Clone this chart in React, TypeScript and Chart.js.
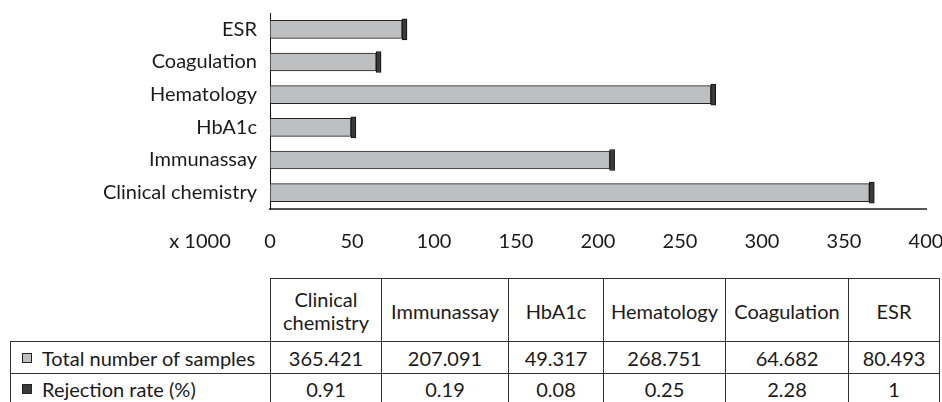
import React, { useEffect, useRef } from "react";
import { Chart, registerables } from "chart.js";

Chart.register(...registerables);

// ---- Data ----
const categories = ["Clinical chemistry", "Immunassay", "HbA1c", "Hematology", "Coagulation", "ESR"];
const headerLines = [["Clinical", "chemistry"], ["Immunassay"], ["HbA1c"], ["Hematology"], ["Coagulation"], ["ESR"]];
const totalSamples = [365.421, 207.091, 49.317, 268.751, 64.682, 80.493];
const totalSamplesText = ["365.421", "207.091", "49.317", "268.751", "64.682", "80.493"];
const rejectionRate = [0.91, 0.19, 0.08, 0.25, 2.28, 1];
const rejectionRateText = ["0.91", "0.19", "0.08", "0.25", "2.28", "1"];
const seriesNames = ["Total number of samples", "Rejection rate (%)"];
const xMin = 0;
const xMax = 400;
const xStep = 50;
const unitLabel = "x 1000";

const FONT = "Lato, 'Open Sans', sans-serif";
const FS = 20;
const TEXT = "#1a1a1a";
const GREY = "#bebfc1";
const DARK = "#3a3a3a";
const LINE = "#333";

const colWidths = [260, 111, 127, 95, 122, 123, 92];

const unitLabelPlugin = {
  id: "unitLabel",
  afterDraw(chart: any) {
    const xs = chart.scales.x;
    const ctx = chart.ctx;
    ctx.save();
    ctx.font = `${FS}px ${FONT}`;
    ctx.fillStyle = TEXT;
    ctx.textAlign = "center";
    ctx.textBaseline = "middle";
    ctx.fillText(unitLabel, xs.getPixelForValue(xMin) - 70, xs.top + 21 + FS * 0.6);
    ctx.restore();
  },
};

function Swatch({ fill }: { fill: string }) {
  return (
    <span
      style={{
        display: "inline-block",
        width: 10,
        height: 10,
        boxSizing: "border-box",
        border: "1px solid #222",
        background: fill,
        marginLeft: 11,
        marginRight: 10,
      }}
    />
  );
}

function DataTable() {
  const cells: any[] = [];
  const n = categories.length;
  cells.push(<div key="h0" />);
  headerLines.forEach((lines, i) => {
    cells.push(
      <div
        key={"h" + (i + 1)}
        style={{
          borderTop: `1px solid ${LINE}`,
          borderLeft: `1px solid ${LINE}`,
          borderRight: i === n - 1 ? `1px solid ${LINE}` : undefined,
          display: "flex",
          flexDirection: "column",
          alignItems: "center",
          justifyContent: "center",
          lineHeight: "23px",
          paddingTop: 2,
        }}
      >
        {lines.map((l, k) => (
          <span key={k}>{l}</span>
        ))}
      </div>
    );
  });
  const rows = [
    { name: seriesNames[0], fill: GREY, vals: totalSamplesText },
    { name: seriesNames[1], fill: DARK, vals: rejectionRateText },
  ];
  rows.forEach((r, ri) => {
    cells.push(
      <div
        key={`r${ri}c0`}
        style={{
          borderTop: `1px solid ${LINE}`,
          borderLeft: `1px solid ${LINE}`,
          borderBottom: ri === rows.length - 1 ? `1px solid ${LINE}` : undefined,
          display: "flex",
          alignItems: "center",
          whiteSpace: "nowrap",
        }}
      >
        <Swatch fill={r.fill} />
        <span>{r.name}</span>
      </div>
    );
    r.vals.forEach((v, i) => {
      cells.push(
        <div
          key={`r${ri}c${i + 1}`}
          style={{
            borderTop: `1px solid ${LINE}`,
            borderLeft: `1px solid ${LINE}`,
            borderRight: i === n - 1 ? `1px solid ${LINE}` : undefined,
            borderBottom: ri === rows.length - 1 ? `1px solid ${LINE}` : undefined,
            display: "flex",
            alignItems: "center",
            justifyContent: "center",
          }}
        >
          {v}
        </div>
      );
    });
  });
  return (
    <div
      style={{
        position: "absolute",
        left: 10,
        top: 278,
        display: "grid",
        gridTemplateColumns: colWidths.map((w) => w + "px").join(" "),
        gridTemplateRows: "63px 32px 32px",
        fontFamily: FONT,
        fontSize: FS,
        color: TEXT,
      }}
    >
      {cells}
    </div>
  );
}

export default function App() {
  const ref = useRef<HTMLCanvasElement | null>(null);

  useEffect(() => {
    if (!ref.current) return;
    const chart = new Chart(ref.current, {
      type: "bar",
      data: {
        labels: categories,
        datasets: [
          {
            label: seriesNames[0],
            data: totalSamples,
            backgroundColor: GREY,
            borderColor: "#222",
            borderWidth: 1,
            barThickness: 18,
            borderSkipped: false,
          },
          {
            label: seriesNames[1],
            data: rejectionRate,
            backgroundColor: DARK,
            borderColor: "#111",
            borderWidth: 1,
            barThickness: 21,
            minBarLength: 5,
            borderSkipped: false,
          },
        ],
      },
      options: {
        indexAxis: "y",
        animation: false,
        responsive: false,
        maintainAspectRatio: false,
        layout: { padding: { top: 13, right: 16, left: 0, bottom: 0 } },
        plugins: {
          legend: { display: false },
          tooltip: { enabled: false },
        },
        scales: {
          x: {
            stacked: true,
            min: xMin,
            max: xMax,
            grid: { display: false, drawTicks: false },
            border: { display: true, color: "#555", width: 2 },
            ticks: {
              stepSize: xStep,
              padding: 21,
              color: TEXT,
              font: { family: FONT, size: FS },
              maxRotation: 0,
              autoSkip: false,
            },
            afterFit: (s: any) => {
              s.height = 61;
              s.paddingLeft = 0;
              s.paddingRight = 0;
            },
          },
          y: {
            stacked: true,
            reverse: true,
            grid: { display: false, drawTicks: false },
            border: { display: true, color: "#111", width: 1 },
            ticks: {
              padding: 13,
              color: TEXT,
              font: { family: FONT, size: FS },
            },
            afterFit: (s: any) => {
              s.width = 270;
              s.paddingTop = 0;
              s.paddingBottom = 0;
            },
          },
        },
      },
      plugins: [unitLabelPlugin],
    } as any);
    return () => chart.destroy();
  }, []);

  return (
    <div style={{ position: "absolute", left: 0, top: 0, width: 942, height: 402, background: "#fff", overflow: "hidden" }}>
      <canvas ref={ref} width={942} height={270} style={{ display: "block", width: 942, height: 270 }} />
      <DataTable />
    </div>
  );
}
